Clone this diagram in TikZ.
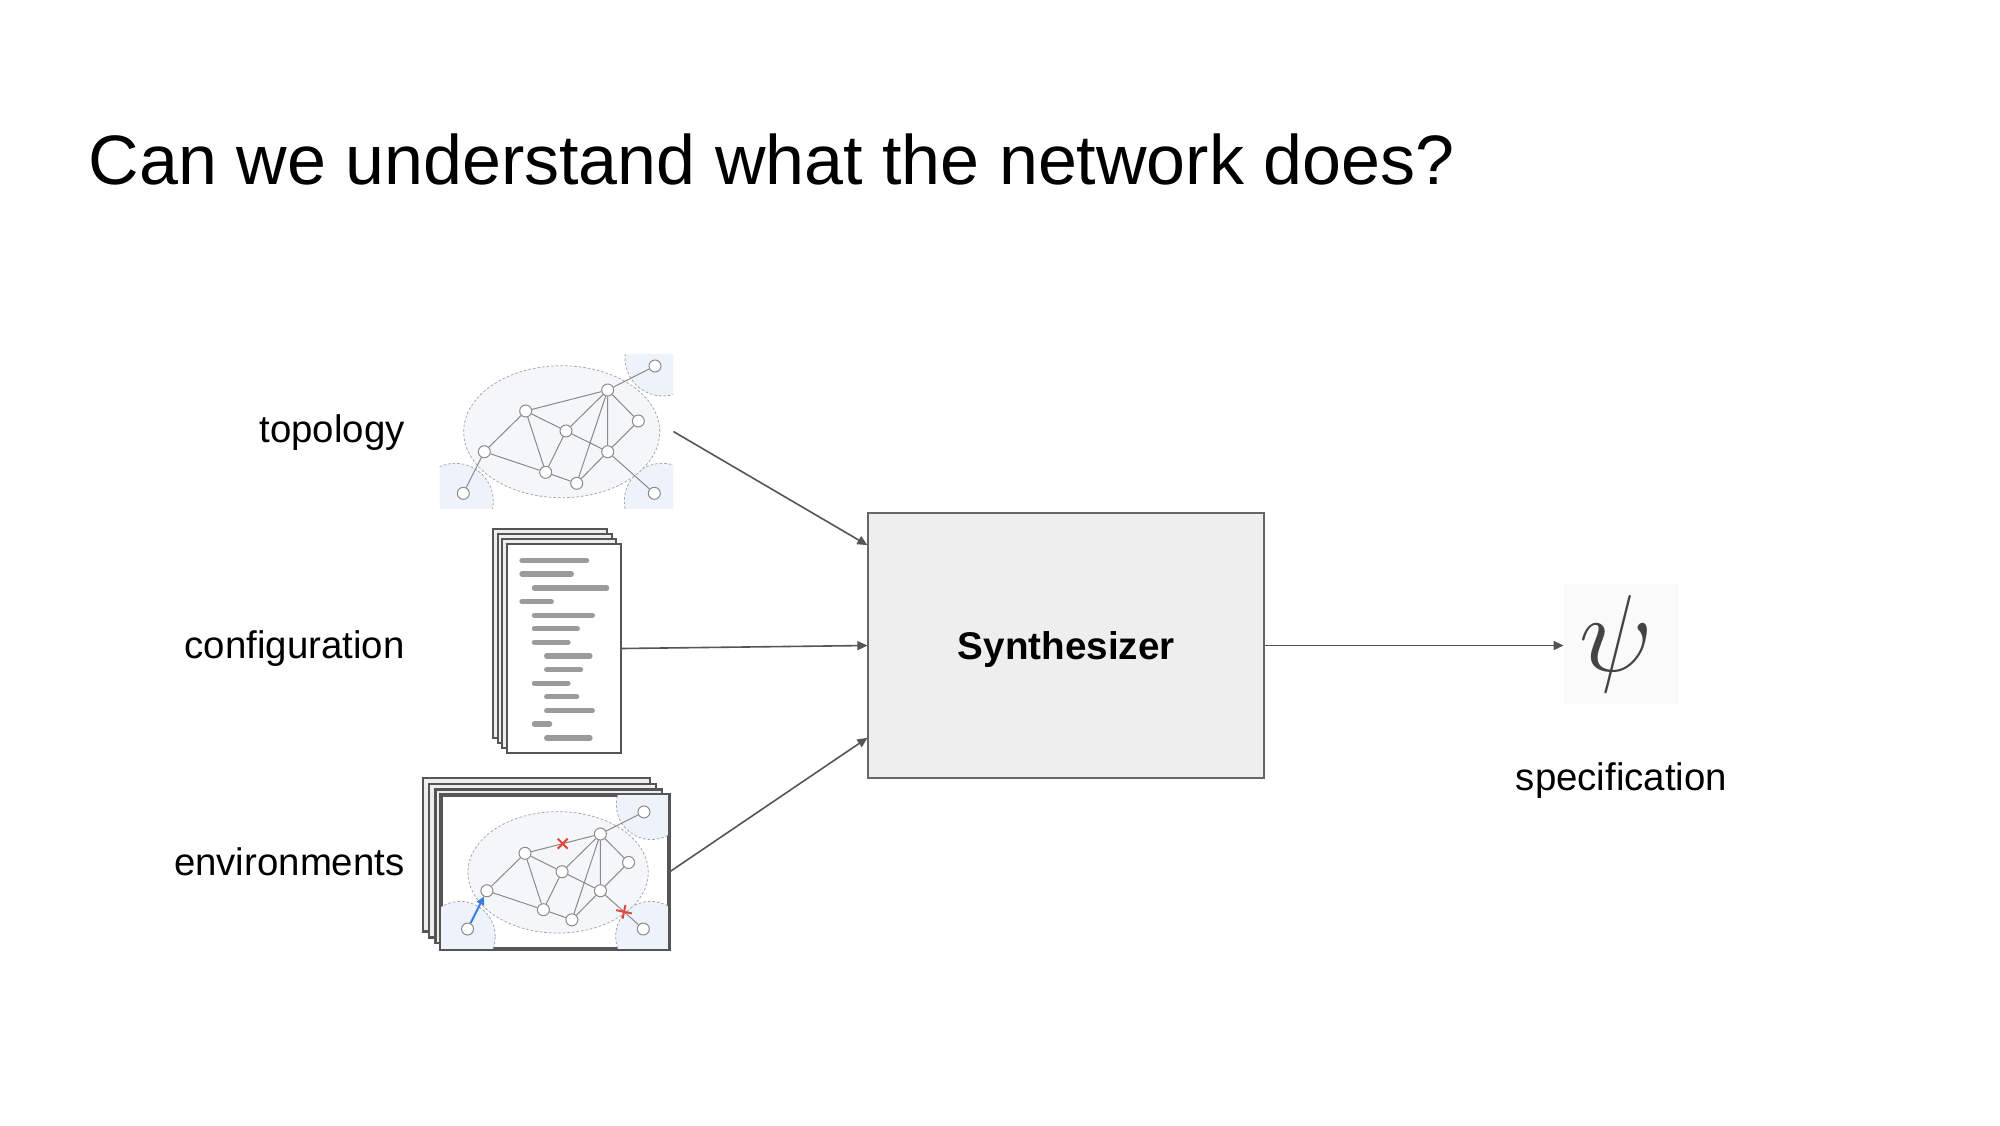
\documentclass[tikz,border=0pt]{standalone}
\usepackage{fontspec}
\setmainfont{Liberation Sans}
\usepackage{tikz}
\usetikzlibrary{arrows.meta,positioning,calc}
\usepackage{xcolor}

\definecolor{gristrazo}{HTML}{555555}
\definecolor{grisred}{HTML}{8A8A8A}
\definecolor{punteado}{HTML}{A8A8A8}
\definecolor{nubefondo}{HTML}{F5F6F9}
\definecolor{brilloazul}{HTML}{EEF3FB}
\definecolor{hojafondo}{HTML}{EEEEEE}
\definecolor{barra}{HTML}{9B9B9B}
\definecolor{rojofallo}{HTML}{E5453B}
\definecolor{azulflecha}{HTML}{3B7DDD}
\definecolor{psifondo}{HTML}{FAFAFA}
\definecolor{psitinta}{HTML}{444444}

% red de ejemplo: prefijo, centro, escala
\newcommand{\red}[3]{%
\begin{scope}[shift={#2}, scale=#3]
  \foreach \gx/\gy in {103.8/-71.7, -103.9/71.6, 103.1/71.6}
    \draw[brillo] (\gx,\gy) circle [radius=19pt];
  \draw[nube] (2.5,2) ellipse [x radius=49pt, y radius=33pt];
  \node[nodo] (#1otr) at (95.8,-63.7) {};
  \node[nodo] (#1hub) at (48.5,-39.7) {};
  \node[nodo] (#1lu) at (-33.5,-18.7) {};
  \node[nodo] (#1mid) at (6.8,1.3) {};
  \node[nodo] (#1rt) at (79.1,-8.7) {};
  \node[nodo] (#1lf) at (-74.9,22) {};
  \node[nodo] (#1rm) at (48.5,22) {};
  \node[nodo] (#1bml) at (-13.5,42.6) {};
  \node[nodo] (#1bm) at (17.5,53.6) {};
  \node[nodo] (#1obl) at (-95.9,63.6) {};
  \node[nodo] (#1obr) at (95.1,63.6) {};
  \draw[arista] (#1otr) -- (#1hub) (#1hub) -- (#1lu) (#1hub) -- (#1mid)
    (#1hub) -- (#1bm) (#1hub) -- (#1rm) (#1hub) -- (#1rt)
    (#1lu) -- (#1lf) (#1lu) -- (#1mid) (#1lu) -- (#1bml)
    (#1mid) -- (#1bml) (#1mid) -- (#1rm) (#1rt) -- (#1rm)
    (#1lf) -- (#1bml) (#1bml) -- (#1bm) (#1bm) -- (#1rm) (#1rm) -- (#1obr);
\end{scope}}

\begin{document}
\begin{tikzpicture}[
  x=0.5pt, y=-0.5pt,
  nodo/.style={circle, draw=grisred, fill=white, line width=0.5pt, inner sep=0pt, minimum size=6pt},
  arista/.style={draw=grisred, line width=0.5pt},
  nube/.style={draw=punteado, fill=nubefondo, line width=0.4pt, dash pattern=on 1.3pt off 1pt},
  brillo/.style={draw=punteado, fill=brilloazul, line width=0.4pt, dash pattern=on 1.3pt off 1pt},
  hoja/.style={rectangle, draw=gristrazo, fill=hojafondo, line width=1pt, inner sep=0pt, anchor=north west},
  barrita/.style={draw=barra, line width=2.65pt, line cap=round},
  bloque/.style={rectangle, draw=black!60, fill=hojafondo, line width=1pt, minimum width=197.8pt, minimum height=132.8pt, text depth=0pt, font=\fontsize{19.3pt}{23pt}\selectfont\bfseries},
  etiqueta/.style={inner sep=0pt, font=\fontsize{19.2pt}{23pt}\selectfont},
  flecha/.style={-{Triangle[length=5pt, width=4.5pt]}, draw=gristrazo, line width=0.8pt},
  cruz/.style={draw=rojofallo, line width=1pt}
]
\useasboundingbox (0,0) rectangle (2000,1125);

\node[anchor=base west, inner sep=0pt, font=\fontsize{35pt}{42pt}\selectfont] (titulo) at (88.3,184) {Can we understand what the network does?};

% topologia
\node[inner sep=0pt, minimum width=116.5pt, minimum height=76.5pt] (topo) at (556.5,431.5) {};
\begin{scope}
  \clip (topo.north west) rectangle (topo.south east);
  \red{t}{(559.2,429.7)}{1}
  \draw[arista] (tobl) -- (tlf);
\end{scope}

% configuracion
\node[hoja, minimum width=57pt, minimum height=104.2pt] (cfg1) at (491.7,528.3) {};
\node[hoja, minimum width=57pt, minimum height=104.2pt] (cfg2) at (496.5,533.3) {};
\node[hoja, minimum width=57pt, minimum height=104.2pt] (cfg3) at (501.2,538.3) {};
\node[hoja, minimum width=57pt, minimum height=104.2pt, fill=white] (cfg4) at (506,543.3) {};
\foreach \xa/\xb/\yy in {522/586.6/560.7, 522/571.3/574, 534.4/606.6/588, 522/551.3/601.7,
    534.4/592.3/615.3, 534.4/577.3/628.7, 534.4/568/642.3, 546.7/590/656,
    546.7/580.6/669.7, 534.4/568/683.3, 546.7/576.6/696.7, 546.7/592.3/710.7,
    534.4/549.6/724, 546.7/590/738}
  \draw[barrita] (\xa,\yy) -- (\xb,\yy);

% entornos
\node[hoja, line width=1.3pt, minimum width=113.4pt, minimum height=76.7pt] (env1) at (421.7,776.7) {};
\node[hoja, line width=1.3pt, minimum width=113.4pt, minimum height=76.7pt] (env2) at (427.8,782.5) {};
\node[hoja, line width=1.3pt, minimum width=113.4pt, minimum height=76.7pt] (env3) at (433.9,788.2) {};
\node[hoja, line width=1.3pt, minimum width=113.4pt, minimum height=76.7pt, fill=white] (env4) at (440,794) {};
\begin{scope}
  \clip (env4.north west) rectangle (env4.south east);
  \red{e}{(555.8,870.5)}{0.92}
\end{scope}
\draw[draw=gristrazo, line width=1.3pt] (env4.north west) rectangle (env4.south east);
\draw[-{Triangle[length=4pt, width=4pt]}, draw=azulflecha, fill=azulflecha, line width=1pt] (eobl) -- (elf);
\coordinate (kr1) at ($(elu)!0.5!(ehub)$);
\coordinate (kr2) at ($(erm)!0.55!(eobr)$);
\draw[cruz] (kr1) +(-5,-5) -- +(5,5) +(-5,5) -- +(5,-5);
\draw[cruz, rotate around={-12:(kr2)}] (kr2) +(-8,0) -- +(8,0) +(0,-7) -- +(0,7);

% etiquetas
\node[etiqueta, anchor=base east] (etopo) at (405,442.7) {topology};
\node[etiqueta, anchor=base east] (ecfg) at (405,658.3) {configuration};
\node[etiqueta, anchor=base east] (eenv) at (405,875) {environments};

% sintetizador
\node[bloque] (synth) at (1066.2,645.5) {Synthesizer};

% especificacion
\node[rectangle, fill=psifondo, inner sep=0pt, minimum width=57.5pt, minimum height=60pt] (psi) at (1621.5,644) {};
\node[text=psitinta, scale=2.2, inner sep=0pt] (psiletra) at ($(psi.center)+(-4.8,0)$) {\Huge$\psi$};
\node[etiqueta, below=29pt of psi] (spec) {specification};

% flechas
\draw[flecha] (topo.east) -- ($(synth.north west)!0.125!(synth.south west)$);
\draw[flecha] (cfg4.east) -- ($(synth.north west)!0.5!(synth.south west)$);
\draw[flecha] (env4.east) -- ($(synth.north west)!0.845!(synth.south west)$);
\draw[flecha] (synth.east) -- (synth.east -| psi.west);
\end{tikzpicture}
\end{document}
